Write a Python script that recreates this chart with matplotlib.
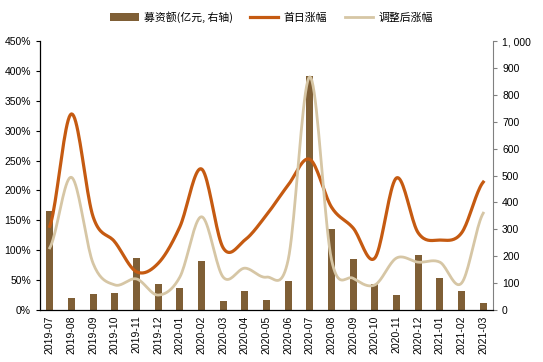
import numpy as np
import matplotlib.pyplot as plt

plt.rcParams['font.family'] = ['Liberation Sans', 'Noto Sans CJK SC', 'DejaVu Sans']

months = ['2019-07', '2019-08', '2019-09', '2019-10', '2019-11', '2019-12',
          '2020-01', '2020-02', '2020-03', '2020-04', '2020-05', '2020-06',
          '2020-07', '2020-08', '2020-09', '2020-10', '2020-11', '2020-12',
          '2021-01', '2021-02', '2021-03']
# fundraising, 100m yuan (right axis)
raised = [368, 45, 60, 63, 193, 97, 82, 182, 33, 71, 38, 108,
          870, 301, 190, 97, 56, 204, 119, 71, 26]
# first-day gain, %
first_day = [140, 328, 156, 114, 64, 78, 139, 236, 104, 117, 159, 209,
             252, 172, 137, 87, 221, 129, 117, 129, 214]
# adjusted gain, %
adjusted = [104, 222, 78, 42, 52, 25, 55, 156, 55, 70, 55, 84,
            390, 84, 53, 42, 87, 80, 80, 45, 162]


def smooth(y, n=20):
    # Catmull-Rom, like Excel's smoothed line
    y = np.asarray(y, float)
    p = np.concatenate([[y[0]], y, [y[-1]]])
    xs, ys = [], []
    for i in range(len(y) - 1):
        p0, p1, p2, p3 = p[i], p[i + 1], p[i + 2], p[i + 3]
        t = np.linspace(0, 1, n, endpoint=False)
        v = 0.5 * (2 * p1 + (-p0 + p2) * t + (2 * p0 - 5 * p1 + 4 * p2 - p3) * t ** 2
                   + (-p0 + 3 * p1 - 3 * p2 + p3) * t ** 3)
        xs.append(i + t)
        ys.append(v)
    xs.append([len(y) - 1])
    ys.append([y[-1]])
    return np.concatenate(xs), np.concatenate(ys)


x = np.arange(len(months))
fig = plt.figure(figsize=(5.43, 3.62), dpi=100)
ax = fig.add_axes([40 / 543, 52 / 362, 453 / 543, 269 / 362])
ax2 = ax.twinx()

bars = ax2.bar(x, raised, width=0.33, color='#7f5f36', zorder=1)
ax2.set_ylim(0, 1000)
ax2.set_yticks(np.arange(0, 1001, 100))
ax2.set_yticklabels([f'{v:,}'.replace(',', ', ') for v in range(0, 1001, 100)])

ax.set_zorder(ax2.get_zorder() + 1)
ax.patch.set_visible(False)
xs, ys = smooth(first_day)
l1, = ax.plot(xs, ys, color='#c55a11', lw=2.3)
xs, ys = smooth(adjusted)
l2, = ax.plot(xs, ys, color='#d6c6a5', lw=2.0)
ax.set_ylim(0, 450)
ax.set_yticks(np.arange(0, 451, 50))
ax.set_yticklabels([f'{v}%' for v in range(0, 451, 50)])
ax.set_xlim(-0.45, len(months) - 0.55)
ax.set_xticks(x)
ax.set_xticklabels(months, rotation=90)

for a in (ax, ax2):
    a.spines['top'].set_visible(False)
    a.tick_params(labelsize=7.5, length=3, width=0.8)
ax.tick_params(axis='x', length=0, pad=4)
ax.spines['right'].set_visible(False)
ax2.spines['left'].set_visible(False)
ax2.spines['bottom'].set_visible(False)
ax2.spines['right'].set_color('#808080')
ax2.tick_params(axis='y', colors='#808080', labelcolor='black')
ax.spines['left'].set_linewidth(0.9)
ax.spines['bottom'].set_linewidth(0.9)

fig.legend([bars, l1, l2], ['募资额(亿元, 右轴)', '首日涨幅', '调整后涨幅'],
           loc='center', bbox_to_anchor=(0.5, 1 - 17 / 362), ncol=3,
           frameon=False, handlelength=2.6, handletextpad=0.5, columnspacing=1.6,
           prop={'family': ['Noto Sans CJK SC', 'DejaVu Sans'], 'size': 7.8})

fig.savefig('out.png', dpi=100)
